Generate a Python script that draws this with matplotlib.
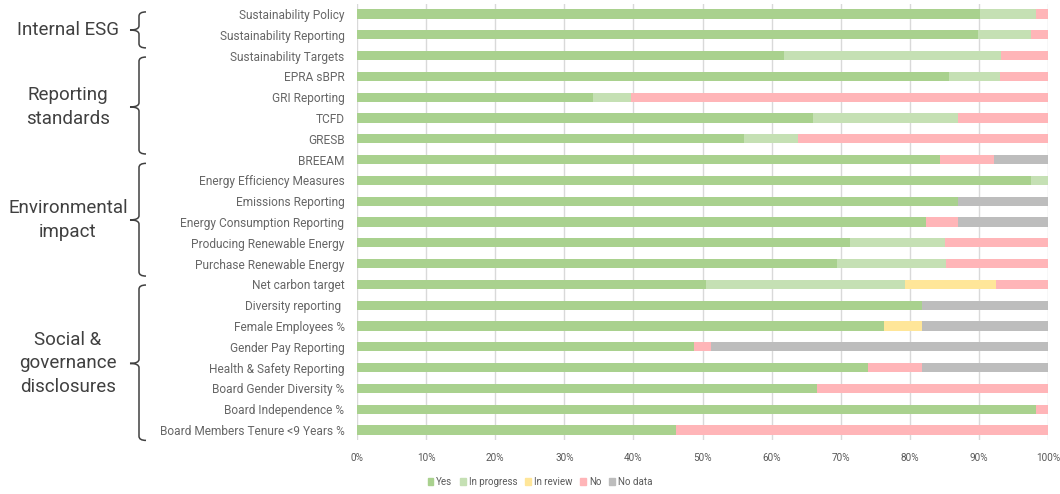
import numpy as np
import matplotlib.pyplot as plt
import matplotlib.transforms as mtransforms
from matplotlib.patches import Patch, PathPatch
from matplotlib.path import Path

plt.rcParams['font.family'] = ['Roboto', 'DejaVu Sans']

categories = [
    'Sustainability Policy', 'Sustainability Reporting', 'Sustainability Targets',
    'EPRA sBPR', 'GRI Reporting', 'TCFD', 'GRESB', 'BREEAM',
    'Energy Efficiency Measures', 'Emissions Reporting', 'Energy Consumption Reporting',
    'Producing Renewable Energy', 'Purchase Renewable Energy', 'Net carbon target',
    'Diversity reporting ', 'Female Employees %', 'Gender Pay Reporting',
    'Health & Safety Reporting', 'Board Gender Diversity %', 'Board Independence %',
    'Board Members Tenure <9 Years %',
]

# shares in percent
yes         = [90.2, 89.9, 61.8, 85.7, 34.2, 66.0, 56.0, 84.3, 97.5, 87.0, 82.3,
               71.4, 69.5, 50.5, 81.8, 76.3, 48.8, 74.0, 66.5, 98.3, 46.2]
in_progress = [8.1, 7.7, 31.4, 7.4, 5.5, 21.0, 7.8, 0, 2.5, 0, 0,
               13.7, 15.7, 28.8, 0, 0, 0, 0, 0, 0, 0]
in_review   = [0, 0, 0, 0, 0, 0, 0, 0, 0, 0, 0,
               0, 0, 13.2, 0, 5.4, 0, 0, 0, 0, 0]
no          = [1.7, 2.4, 6.8, 6.9, 60.3, 13.0, 36.2, 7.9, 0, 0, 4.7,
               14.9, 14.8, 7.5, 0, 0, 2.5, 7.7, 33.5, 1.7, 53.8]
no_data     = [0, 0, 0, 0, 0, 0, 0, 7.8, 0, 13.0, 13.0,
               0, 0, 0, 18.2, 18.3, 48.7, 18.3, 0, 0, 0]

series = ['Yes', 'In progress', 'In review', 'No', 'No data']
colors = ['#A9D18E', '#C5E0B4', '#FFE699', '#FFB5B8', '#BDBDBD']

# group brackets: label, top, tip, bottom (in row units)
groups = [
    ('Internal ESG', -0.1, 0.77, 1.63),
    ('Reporting\nstandards', 2.07, 4.47, 6.73),
    ('Environmental\nimpact', 7.18, 9.9, 12.6),
    ('Social &\ngovernance\ndisclosures', 13.03, 16.8, 20.5),
]

fig = plt.figure(figsize=(10.6, 4.94), dpi=100)
ax = fig.add_axes([357 / 1060, 1 - 440.4 / 494, 691 / 1060, 436.8 / 494])

y = np.arange(len(categories))
left = np.zeros(len(categories))
for name, vals, c in zip(series, [yes, in_progress, in_review, no, no_data], colors):
    vals = np.array(vals, dtype=float)
    ax.barh(y, vals, left=left, height=0.45, color=c, label=name, zorder=2)
    left += vals

ax.set_xlim(0, 100)
ax.set_ylim(len(categories) - 0.5, -0.5)
ax.set_xticks(np.arange(0, 101, 10))
ax.set_xticklabels([f'{t}%' for t in range(0, 101, 10)], fontsize=7.2, color='#595959')
ax.set_yticks(y)
ax.set_yticklabels(categories, fontsize=8.6, color='#666666')
ax.tick_params(length=0, pad=9)
ax.tick_params(axis='x', pad=9)
ax.grid(axis='x', color='#D9D9D9', lw=1, zorder=0)
for s in ax.spines.values():
    s.set_visible(False)

# curly brackets on the left
trans = mtransforms.blended_transform_factory(fig.transFigure, ax.transData)
xs, xt, xe = 139 / 1060, 130 / 1060, 146 / 1060
r = 0.2
for label, top, tip, bot in groups:
    verts = [(xe, top), (xs, top), (xs, top + r), (xs, tip - r), (xs, tip), (xt, tip),
             (xt, tip), (xs, tip), (xs, tip + r), (xs, bot - r), (xs, bot), (xe, bot)]
    codes = [Path.MOVETO, Path.CURVE3, Path.CURVE3, Path.LINETO, Path.CURVE3, Path.CURVE3,
             Path.MOVETO, Path.CURVE3, Path.CURVE3, Path.LINETO, Path.CURVE3, Path.CURVE3]
    fig.add_artist(PathPatch(Path(verts, codes), transform=trans, fill=False,
                             edgecolor='#404040', lw=1.1, clip_on=False))
    fig.text(68 / 1060, tip, label, transform=trans, ha='center', va='center',
             fontsize=13.5, color='#404040', linespacing=1.42)

handles = [Patch(color=c, label=n) for n, c in zip(series, colors)]
fig.legend(handles=handles, loc='center', bbox_to_anchor=(540 / 1060, 1 - 482 / 494),
           ncol=5, frameon=False, fontsize=7, handlelength=0.6, handleheight=0.6,
           handletextpad=0.3, columnspacing=0.8, labelcolor='#595959')

fig.savefig('out.png', dpi=100)
